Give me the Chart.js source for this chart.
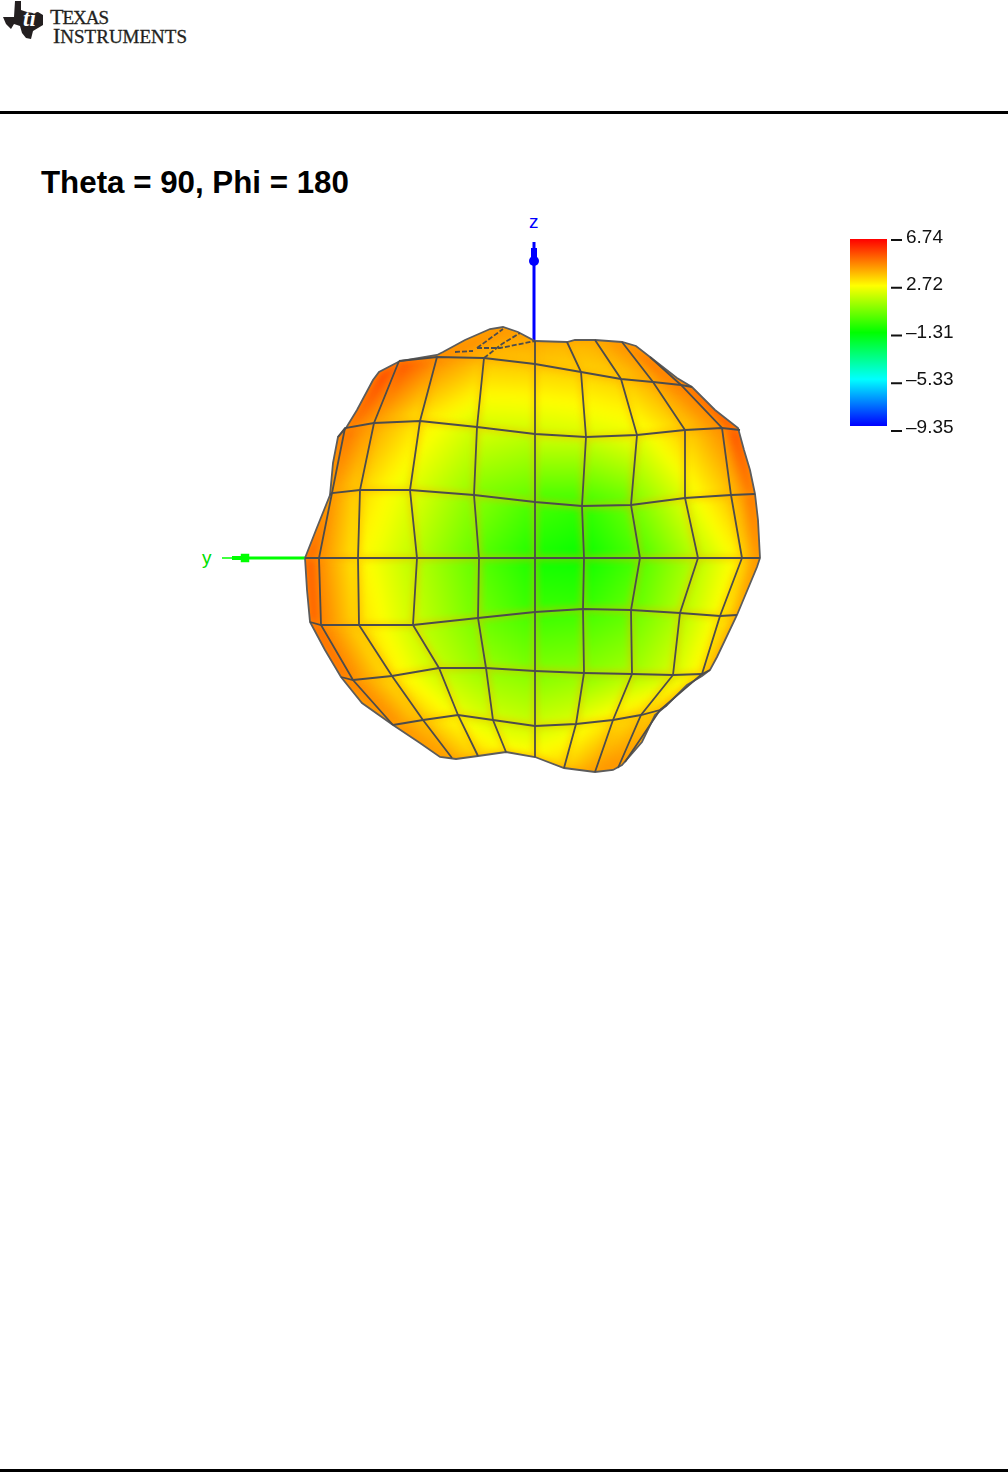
<!DOCTYPE html>
<html>
<head>
<meta charset="utf-8">
<title>Theta = 90, Phi = 180</title>
<script src="https://cdn.jsdelivr.net/npm/chart.js@4/dist/chart.umd.js"></script>
<style>
  html,body{margin:0;padding:0;background:#fff;width:1008px;height:1472px;overflow:hidden;font-family:"Liberation Sans",Arial,sans-serif}
  #main,#bar{position:absolute}
  #main{left:0;top:0}
  #bar{left:850px;top:200px}
  .rule{position:absolute;left:0;width:1008px;background:#000}
  .t{position:absolute;white-space:nowrap}
  #title{left:41px;top:165px;font:bold 31.3px/36px "Liberation Sans",Arial,sans-serif;color:#000}
  #lz{left:529px;top:211px;font:19px/22px "Liberation Sans",Arial,sans-serif;color:#0000ff}
  #ly{left:202px;top:547px;font:19px/22px "Liberation Sans",Arial,sans-serif;color:#00e000}
  #logo1,#logo2{font:19px/26px "Liberation Serif",serif;color:#231f20;-webkit-text-stroke:0.3px #231f20}
  #logo1 b,#logo2 b{font-weight:normal;font-size:22px}
  #logo1{left:50px;top:4px;letter-spacing:-1px}
  #logo2{left:53px;top:23px}
  svg{position:absolute;left:0;top:0}
</style>
</head>
<body>
<svg width="48" height="44" viewBox="0 0 48 44">
  <path d="M15,1 L21,1 L21,10 L27,12 L33,13 L38,12 L43,15 L43,25 L38,28 L33,31 L31,39 L26,38 L22,33 L20,26 L14,24 L11,29 L6,24 L3,17 L14,17 Z" fill="#231f20"/>
  <text x="23" y="26" font-family="Liberation Serif" font-style="italic" font-weight="bold" font-size="23" fill="#fff">ti</text>
</svg>
<div class="t" id="logo1"><b>T</b>EXAS</div>
<div class="t" id="logo2"><b>I</b>NSTRUMENTS</div>
<div class="rule" style="top:111px;height:3px"></div>
<div class="rule" style="top:1469px;height:3px"></div>
<div class="t" id="title">Theta = 90, Phi = 180</div>
<div class="t" id="lz">z</div>
<div class="t" id="ly">y</div>
<canvas id="main" width="1008" height="1472"></canvas>
<canvas id="bar" width="150" height="260"></canvas>
<script>
// Colour scale (dB)
const colorTicks = [6.74, 2.72, -1.31, -5.33, -9.35];
const colorTickLabels = ['6.74', '2.72', '\u20131.31', '\u20135.33', '\u20139.35'];
const colorRamp = ['#ff0000', '#ffff00', '#00ff00', '#00ffff', '#0000ff'];

// Projected surface mesh: rows run top to bottom, columns left to right.
const meshY = [
  [-156,-156,-136,-92,-32,0,32,60,87,115,140],
  [-156,-156,-136,-98,-51,0,46,86,118,146,157],
  [-197,-190,-161,-115,-58,0,51,102,150,187,205],
  [-205,-203,-175,-125,-61,0,47,96,150,196,220],
  [-230,-216,-177,-118,-56,0,49,105,163,207,225],
  [-225,-214,-176,-122,-57,0,48,96,145,185,202],
  [-194,-182,-143,-96,-49,0,49,97,138,167,175],
  [-142,-142,-112,-77,-42,0,41,78,106,125,132],
  [-95,-95,-83,-57,-29,0,29,60,83,90,105]
];
const meshZ = [
  [186,186,197,206,230,217,216,218,216,201,180],
  [186,186,197,201,200,194,186,179,176,173,171],
  [121,130,135,137,131,124,121,123,128,130,128],
  [63,65,68,68,63,56,52,53,60,63,64],
  [0,0,0,0,0,0,0,0,0,0,0],
  [-64,-67,-67,-67,-60,-54,-51,-52,-55,-58,-57],
  [-119,-122,-118,-110,-110,-113,-115,-116,-117,-116,-112],
  [-167,-167,-162,-157,-162,-168,-166,-162,-157,-152,-147],
  [-199,-199,-200,-198,-194,-199,-210,-214,-210,-204,-182]
];
const meshGain = [
  [5.6,5.6,5.5,4.7,4.5,4.0,3.9,4.0,4.6,5.2,5.8],
  [5.7,5.7,5.6,4.7,3.7,3.6,3.4,3.5,4.0,4.9,5.8],
  [5.2,5.0,4.2,3.0,2.0,1.9,2.1,2.4,3.5,4.5,6.0],
  [4.6,4.3,3.3,2.3,0.9,-0.1,-0.6,0.4,2.3,3.7,5.0],
  [5.6,4.6,2.9,1.6,0.1,-1.0,-1.2,-0.1,1.6,3.0,4.9],
  [5.7,4.7,3.3,1.9,0.5,-0.4,-0.4,0.2,1.5,2.8,3.8],
  [5.3,4.6,3.1,1.7,1.0,0.7,0.9,1.3,2.0,3.0,4.0],
  [4.6,4.5,3.6,2.5,2.0,1.9,2.3,3.2,3.4,3.5,3.7],
  [4.6,4.5,4.0,3.4,2.8,2.9,3.5,4.3,4.6,4.2,3.8]
];
// Silhouette of the surface
const outlineY = [-230,-219,-205,-202,-197,-189,-178,-162,-156,-135,-98,-92,-70,-45,-32,-17,0,32,40,60,87,101,115,142,157,180,203,209,215,220,223,225,222,202,182,175,167,152,132,120,107,87,78,60,29,0,-29,-57,-79,-95,-115,-142,-173,-194,-210,-225,-228,-230];
const outlineZ = [0,28,63,95,121,130,148,178,186,197,203,206,218,229,231,226,217,216,218,218,216,212,201,180,171,148,130,108,88,64,38,0,-9,-57,-99,-112,-118,-127,-147,-157,-184,-207,-212,-214,-210,-199,-194,-198,-201,-199,-185,-167,-145,-119,-92,-64,-32,0];
// Foreshortened lines near the top of the surface
const capY = [-58,-32,null,-80,-62,null,-58,-35,0,null,-51,-33,-15];
const capZ = [210,229,null,206,207,null,210,210,217,null,200,214,225];
// Which mesh nodes each drawn line covers: [index, first, last]
const rowLines = [[1,2,10],[2,0,10],[3,0,10],[4,0,10],[5,0,10],[6,0,10],[7,1,10]];
const columnLines = [[1,2,7],[2,1,8],[3,1,8],[4,1,8],[5,0,8],[6,0,8],[7,0,8],[8,0,8],[9,0,8]];
// Coordinate axes
const zAxisY = [-1,-1], zAxisZ = [217,316];
const zRodY = [-1,-1], zRodZ = [297,310];
const zHeadY = [-1], zHeadZ = [297];
const yAxisY = [-230,-286], yAxisZ = [0,0];
const yRodY = [-286,-303], yRodZ = [0,0];
const yTipY = [-303,-313], yTipZ = [0,0];
const yHeadY = [-290], yHeadZ = [0];

const rampStops = colorTicks.map(v => v);
function gainColor(v) {
  v = Math.max(colorTicks[4], Math.min(colorTicks[0], v));
  for (let i = 0; i < 4; i++) {
    if (v >= rampStops[i + 1]) {
      const t = (rampStops[i] - v) / (rampStops[i] - rampStops[i + 1]);
      const a = hex(colorRamp[i]), b = hex(colorRamp[i + 1]);
      return `rgb(${a.map((c, k) => Math.round(c + (b[k] - c) * t)).join(',')})`;
    }
  }
  return colorRamp[4];
}
function hex(s) { return [1, 3, 5].map(i => parseInt(s.substr(i, 2), 16)); }
function pts(xs, ys) { return xs.map((x, i) => ({x, y: ys[i]})); }

// A cell's shade: the plane through its four corner gains, as a canvas gradient.
function cellPaint(r, c) {
  const nodes = [[r, c], [r, c + 1], [r + 1, c + 1], [r + 1, c]];
  const gains = nodes.map(([a, b]) => meshGain[a][b]);
  const mean = gains.reduce((s, v) => s + v, 0) / 4;
  return ctx => {
    const chart = ctx.chart;
    if (!chart.chartArea) return gainColor(mean);
    const P = nodes.map(([a, b]) => [chart.scales.x.getPixelForValue(meshY[a][b]), chart.scales.y.getPixelForValue(meshZ[a][b])]);
    const cx = P.reduce((s, p) => s + p[0], 0) / 4, cy = P.reduce((s, p) => s + p[1], 0) / 4;
    let sxx = 0, sxy = 0, syy = 0, sxv = 0, syv = 0;
    P.forEach((p, i) => {
      const dx = p[0] - cx, dy = p[1] - cy, dv = gains[i] - mean;
      sxx += dx * dx; sxy += dx * dy; syy += dy * dy; sxv += dx * dv; syv += dy * dv;
    });
    const det = sxx * syy - sxy * sxy;
    if (det < 1) return gainColor(mean);
    const gx = (syy * sxv - sxy * syv) / det, gy = (sxx * syv - sxy * sxv) / det;
    const mag = Math.hypot(gx, gy);
    if (mag < 1e-5) return gainColor(mean);
    const ux = gx / mag, uy = gy / mag;
    const L = Math.max(...P.map(p => Math.abs((p[0] - cx) * ux + (p[1] - cy) * uy))) + 6;
    const g = ctx.chart.ctx.createLinearGradient(cx - ux * L, cy - uy * L, cx + ux * L, cy + uy * L);
    for (let i = 0; i <= 8; i++) {
      const t = i / 8;
      g.addColorStop(t, gainColor(mean + (2 * t - 1) * L * mag));
    }
    return g;
  };
}

const datasets = [];
for (let r = 0; r < meshGain.length - 1; r++) {
  for (let c = 0; c < meshGain[0].length - 1; c++) {
    const corners = [[r, c], [r, c + 1], [r + 1, c + 1], [r + 1, c], [r, c]];
    datasets.push({
      data: corners.map(([a, b]) => ({x: meshY[a][b], y: meshZ[a][b]})),
      showLine: true, fill: 'shape', backgroundColor: cellPaint(r, c),
      borderWidth: 0, borderColor: 'transparent', pointRadius: 0
    });
  }
}
const meshStyle = {showLine: true, fill: false, borderColor: '#4c4c4c', borderWidth: 1.8, pointRadius: 0};
rowLines.forEach(([r, a, b]) => {
  const d = [];
  for (let c = a; c <= b; c++) d.push({x: meshY[r][c], y: meshZ[r][c]});
  datasets.push({...meshStyle, data: d});
});
columnLines.forEach(([c, a, b]) => {
  const d = [];
  for (let r = a; r <= b; r++) d.push({x: meshY[r][c], y: meshZ[r][c]});
  datasets.push({...meshStyle, data: d});
});
datasets.push({...meshStyle, data: pts(capY, capZ), borderDash: [5, 2], spanGaps: false});
datasets.push({...meshStyle, data: pts(outlineY, outlineZ), borderColor: '#5c5c5c'});
const axis = (xs, ys, color, w) => ({data: pts(xs, ys), showLine: true, fill: false, borderColor: color, borderWidth: w, pointRadius: 0});
datasets.push(axis(zAxisY, zAxisZ, '#0000ff', 3));
datasets.push(axis(zRodY, zRodZ, '#0000ff', 6));
datasets.push({data: pts(zHeadY, zHeadZ), showLine: false, pointRadius: 5, backgroundColor: '#0000ff', borderWidth: 0});
datasets.push(axis(yAxisY, yAxisZ, '#00ff00', 3));
datasets.push(axis(yRodY, yRodZ, '#00ff00', 4));
datasets.push(axis(yTipY, yTipZ, '#00ff00', 1.5));
datasets.push({data: pts(yHeadY, yHeadZ), showLine: false, pointStyle: 'rect', pointRadius: 6, backgroundColor: '#00ff00', borderWidth: 0});

// Blends the cell fills and keeps them inside the silhouette.
const surfacePlugin = {
  id: 'surface',
  beforeDraw(chart) {
    const ctx = chart.ctx, sx = chart.scales.x, sy = chart.scales.y;
    ctx.save();
    ctx.beginPath();
    outlineY.forEach((v, i) => ctx.lineTo(sx.getPixelForValue(v), sy.getPixelForValue(outlineZ[i])));
    ctx.closePath();
    ctx.fillStyle = '#ffa000';
    ctx.fill();
    ctx.clip();
    ctx.filter = 'blur(4px)';
  },
  beforeDatasetsDraw(chart) { chart.ctx.restore(); }
};

new Chart(document.getElementById('main'), {
  type: 'scatter',
  data: {datasets},
  plugins: [surfacePlugin],
  options: {
    responsive: false, animation: false, events: [],
    layout: {padding: 0, autoPadding: false},
    plugins: {legend: {display: false}, tooltip: {enabled: false}, title: {display: false}, filler: {drawTime: 'beforeDatasetsDraw', propagate: false}},
    scales: {
      x: {type: 'linear', display: false, min: -535, max: 473},
      y: {type: 'linear', display: false, min: -914, max: 558}
    }
  }
});

// Colour bar
const barHigh = colorTicks[0], barLow = colorTicks[4];
const barTop = 200, barHeight = 260;
function rangeFor(topPx, bottomPx) {
  const k = (barHigh - barLow) / (bottomPx - topPx);
  return {max: barHigh + (topPx - barTop) * k, min: barLow - (barTop + barHeight - bottomPx) * k};
}
const tickXs = [], tickYs = [];
colorTicks.forEach(v => { tickXs.push(41, 52, null); tickYs.push(v, v, null); });
new Chart(document.getElementById('bar'), {
  type: 'scatter',
  data: {datasets: [
    {data: pts([0, 37, 37, 0, 0], [barHigh, barHigh, barLow, barLow, barHigh]), yAxisID: 'yBar', showLine: true, fill: 'shape', borderWidth: 0, borderColor: 'transparent', pointRadius: 0,
     backgroundColor: ctx => {
       const c = ctx.chart;
       if (!c.chartArea) return colorRamp[1];
       const s = c.scales.yBar, g = c.ctx.createLinearGradient(0, s.getPixelForValue(barHigh), 0, s.getPixelForValue(barLow));
       colorTicks.forEach((v, i) => g.addColorStop(i / 4, colorRamp[i]));
       return g;
     }},
    {data: pts(tickXs, tickYs), yAxisID: 'yTick', showLine: true, fill: false, spanGaps: false, borderColor: '#111', borderWidth: 2, pointRadius: 0}
  ]},
  options: {
    responsive: false, animation: false, events: [],
    layout: {padding: 0, autoPadding: false},
    plugins: {legend: {display: false}, tooltip: {enabled: false}},
    scales: {
      x: {type: 'linear', display: false, min: 0, max: 52},
      yBar: {type: 'linear', display: false, ...rangeFor(239, 426)},
      yTick: {type: 'linear', display: false, ...rangeFor(240, 431)},
      y: {
        type: 'linear', position: 'right', ...rangeFor(237.5, 427.5),
        border: {display: false},
        grid: {display: false, drawTicks: false},
        afterBuildTicks: s => { s.ticks = colorTicks.map(value => ({value})); },
        afterFit: s => { s.width = 98; s.paddingTop = 0; s.paddingBottom = 0; },
        ticks: {
          padding: 4, color: '#111', autoSkip: false, maxRotation: 0,
          font: {family: '"Liberation Sans", Arial, sans-serif', size: 19},
          callback: v => { const i = colorTicks.findIndex(t => Math.abs(t - v) < 1e-6); return i >= 0 ? colorTickLabels[i] : ''; }
        }
      }
    }
  }
});
</script>
</body>
</html>
